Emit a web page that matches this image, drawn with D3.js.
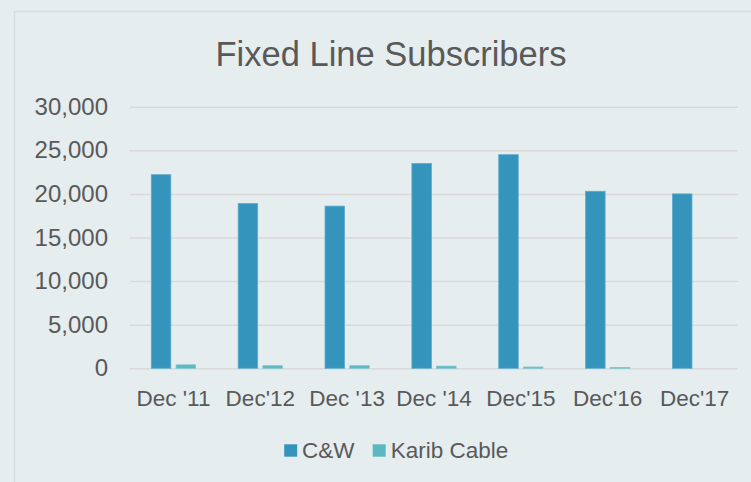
<!DOCTYPE html>
<html>
<head>
<meta charset="utf-8">
<script src="https://cdn.jsdelivr.net/npm/d3@7"></script>
<style>
  html, body { margin: 0; padding: 0; background: #e6edef; }
  svg { display: block; }
</style>
</head>
<body>
<svg id="chart" width="751" height="482"></svg>
<script>
const categories = ["Dec '11", "Dec'12", "Dec '13", "Dec '14", "Dec'15", "Dec'16", "Dec'17"];
const seriesNames = ["C&W", "Karib Cable"];
const cwValues = [22200, 18900, 18600, 23500, 24500, 20300, 20000];
const karibValues = [400, 300, 300, 250, 150, 100, 0];
const yTicks = [0, 5000, 10000, 15000, 20000, 25000, 30000];

const colors = { "C&W": "#3594bc", "Karib Cable": "#5bb8c1" };
const strokes = { "C&W": "#5eaccc", "Karib Cable": "#7ec8cf" };

const svg = d3.select('#chart');
const width = 751, height = 482;

// chart frame
svg.append('rect')
  .attr('x', 0).attr('y', 0).attr('width', width).attr('height', height)
  .attr('fill', '#e6edef');
svg.append('rect')
  .attr('x', 14.5).attr('y', 11.5).attr('width', width + 20).attr('height', height + 20)
  .attr('fill', '#e6edef')
  .attr('stroke', '#d8dcdd')
  .attr('stroke-width', 1.5);

const x0 = d3.scaleBand().domain(categories).range([130, 738]).padding(0);
const x1 = d3.scaleBand().domain(seriesNames)
  .range([21.3, x0.bandwidth() - 21.3])
  .paddingInner(0.21).paddingOuter(0);
const y = d3.scaleLinear().domain([0, 30000]).range([368.3, 106.7]);

// title
svg.append('text')
  .attr('x', 391).attr('y', 65.5)
  .attr('text-anchor', 'middle')
  .attr('font-family', 'Liberation Sans, Arial, sans-serif')
  .attr('font-size', 34.5)
  .attr('fill', '#595959')
  .text('Fixed Line Subscribers');

// gridlines + y labels
const yAxis = d3.axisLeft(y).tickValues(yTicks)
  .tickSize(-(738 - 130))
  .tickPadding(22)
  .tickFormat(d3.format(','));
const gy = svg.append('g').attr('transform', 'translate(130,0)').call(yAxis);
gy.select('.domain').remove();
gy.selectAll('.tick line').attr('stroke', '#d9d9d9').attr('stroke-width', 1.5);
gy.selectAll('.tick text')
  .attr('font-family', 'Liberation Sans, Arial, sans-serif')
  .attr('font-size', 24)
  .attr('fill', '#595959');

// bars
const rows = categories.map((c, i) => ({ cat: c, values: [
  { key: "C&W", value: cwValues[i] },
  { key: "Karib Cable", value: karibValues[i] }
]}));

const groups = svg.append('g').selectAll('g')
  .data(rows).join('g')
  .attr('transform', d => `translate(${x0(d.cat)},0)`);

groups.selectAll('rect')
  .data(d => d.values.filter(v => v.value > 0))
  .join('rect')
  .attr('x', d => x1(d.key))
  .attr('width', x1.bandwidth())
  .attr('y', d => y(d.value))
  .attr('height', d => y(0) - y(d.value))
  .attr('fill', d => colors[d.key])
  .attr('stroke', d => strokes[d.key])
  .attr('stroke-width', 0.8);

// x labels
const xAxis = d3.axisBottom(x0).tickSize(0).tickPadding(0);
const gx = svg.append('g').attr('transform', 'translate(0,406)').call(xAxis);
gx.select('.domain').remove();
gx.selectAll('.tick text')
  .attr('dy', 0)
  .attr('font-family', 'Liberation Sans, Arial, sans-serif')
  .attr('font-size', 22.5)
  .attr('fill', '#595959');

// legend
const legendItems = [
  { key: "C&W", sx: 284.2, tx: 302 },
  { key: "Karib Cable", sx: 372.7, tx: 390.8 }
];
const legend = svg.append('g');
legend.selectAll('rect')
  .data(legendItems).join('rect')
  .attr('x', d => d.sx).attr('y', 444.3)
  .attr('width', 13).attr('height', 12.4)
  .attr('fill', d => colors[d.key]);
legend.selectAll('text')
  .data(legendItems).join('text')
  .attr('x', d => d.tx).attr('y', 458)
  .attr('font-family', 'Liberation Sans, Arial, sans-serif')
  .attr('font-size', 22.5)
  .attr('fill', '#595959')
  .text(d => d.key);
</script>
</body>
</html>
